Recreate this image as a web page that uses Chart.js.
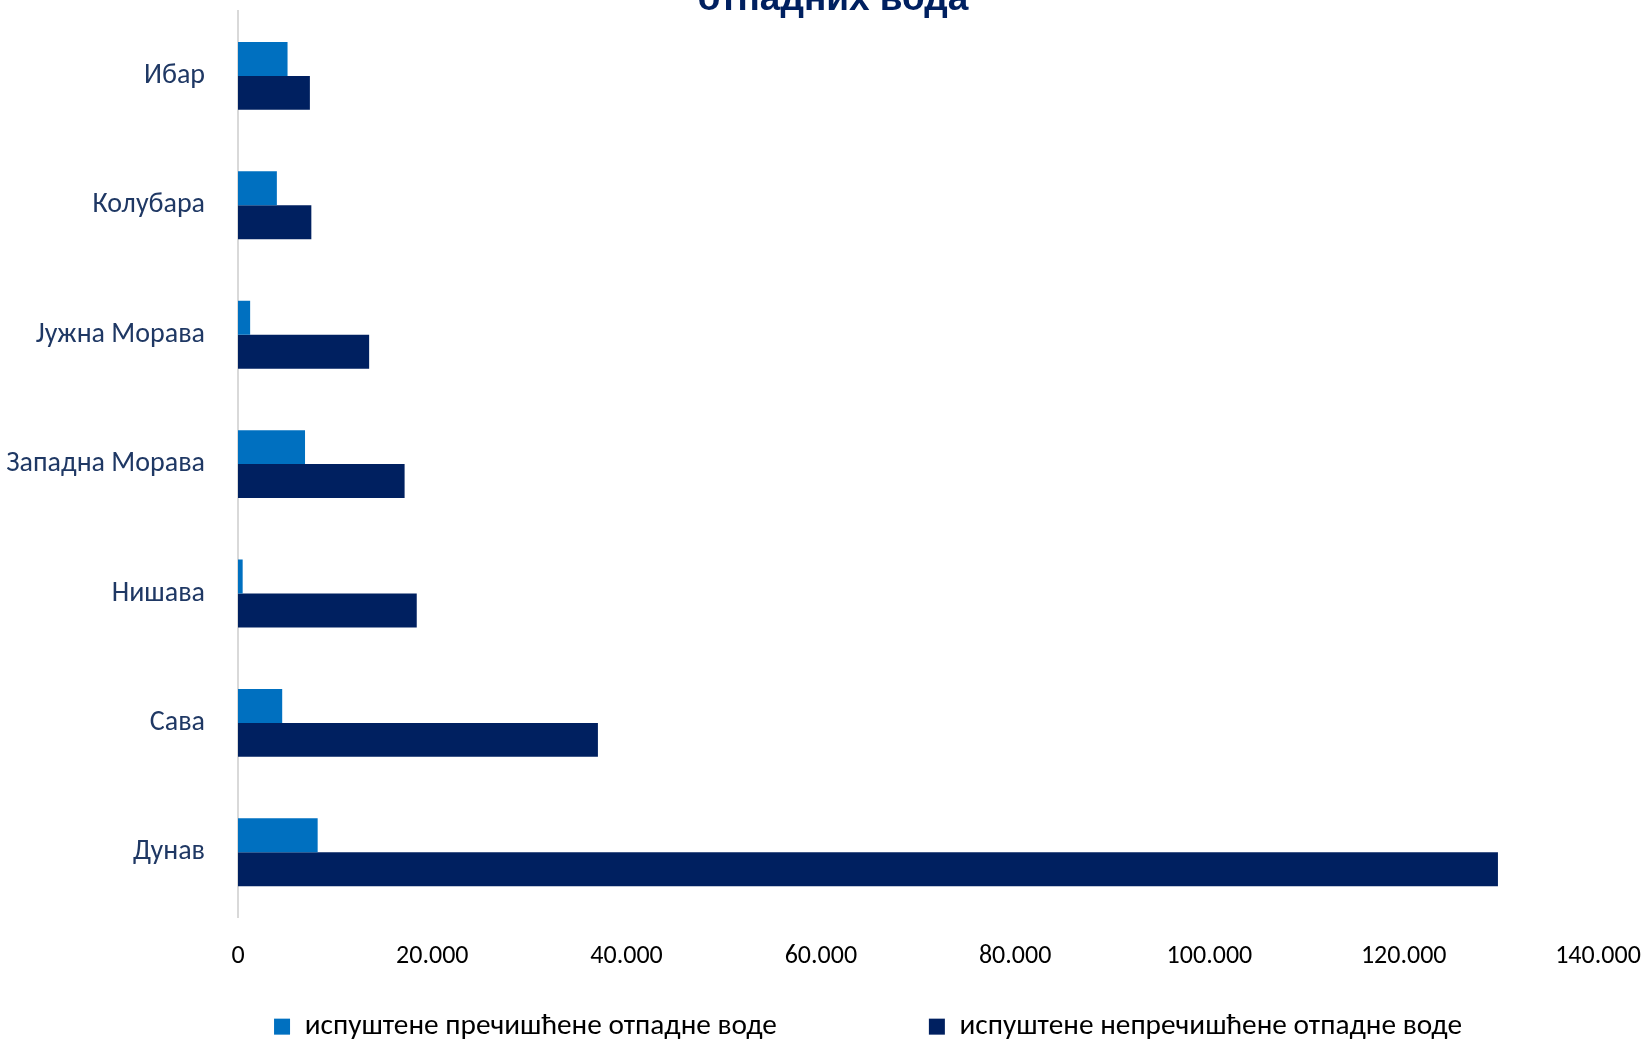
<!DOCTYPE html>
<html>
<head>
<meta charset="utf-8">
<script src="https://cdn.jsdelivr.net/npm/chart.js@4.4.1/dist/chart.umd.min.js"></script>
<style>
    html, body { margin: 0; padding: 0; background: #fff; overflow: hidden; }
    #wrap { position: absolute; left: 0; top: -11px; width: 1646px; height: 1051px; }
</style>
</head>
<body>
<div id="wrap"><canvas id="chart"></canvas></div>
<script>
const rivers = ["Ибар", "Колубара", "Јужна Морава", "Западна Морава", "Нишава", "Сава", "Дунав"];
const treated = [5100, 4000, 1250, 6900, 480, 4550, 8200];
const untreated = [7400, 7550, 13500, 17150, 18400, 37050, 129700];
const seriesNames = ["испуштене пречишћене отпадне воде", "испуштене непречишћене отпадне воде"];
const titleText = "отпадних вода";
const xMax = 140000;
const xStep = 20000;

const font = "Carlito, Lato, sans-serif";

function fmt(v) {
    return String(v).replace(/\B(?=(\d{3})+(?!\d))/g, ".");
}

// the legend items sit far apart, so labels.padding is big;
// keep the legend box short and move it (and the title) into place after layout
const boxShift = {
    id: "boxShift",
    afterLayout(chart) {
        const lg = chart.legend;
        const gap = lg.options.labels.padding;
        lg.top = lg.top - gap + 10;
        lg.left += 45;
        lg.right += 45;

        const t = chart.titleBlock;
        t.left += 10;
        t.right += 10;
    }
};

new Chart(document.getElementById("chart"), {
    type: "bar",
    data: {
        labels: rivers,
        datasets: [{
            label: seriesNames[0],
            data: treated,
            backgroundColor: "#0070C0",
            borderWidth: 0,
            barPercentage: 1,
            categoryPercentage: 0.525
        }, {
            label: seriesNames[1],
            data: untreated,
            backgroundColor: "#002060",
            borderWidth: 0,
            barPercentage: 1,
            categoryPercentage: 0.525
        }]
    },
    options: {
        indexAxis: "y",
        responsive: true,
        maintainAspectRatio: false,
        animation: false,
        layout: { padding: 0 },
        plugins: {
            title: {
                display: true,
                text: titleText,
                color: "#002060",
                font: { family: "'Liberation Sans', Arial, sans-serif", size: 37, weight: "bold", lineHeight: 0.6 },
                padding: 0
            },
            legend: {
                position: "bottom",
                maxHeight: 38,
                labels: {
                    boxWidth: 16,
                    boxHeight: 16,
                    padding: 152,
                    color: "#000",
                    font: { family: font, size: 29.3 }
                }
            },
            tooltip: { enabled: false }
        },
        scales: {
            x: {
                min: 0,
                max: xMax,
                grid: { display: false, drawTicks: false },
                border: { display: false },
                ticks: {
                    stepSize: xStep,
                    padding: 24,
                    color: "#000",
                    font: { family: font, size: 26 },
                    callback: v => fmt(v)
                },
                afterFit(s) {
                    s.height = 85;
                    s.paddingRight = 48;
                }
            },
            y: {
                grid: { display: false, drawTicks: false },
                border: { display: true, color: "#D9D9D9", width: 2 },
                ticks: {
                    padding: 33,
                    color: "#1F3864",
                    font: { family: font, size: 28 }
                },
                afterFit(s) {
                    s.width = 238;
                    s.paddingTop = 0;
                    s.paddingBottom = 0;
                }
            }
        }
    },
    plugins: [boxShift]
});
</script>
</body>
</html>
